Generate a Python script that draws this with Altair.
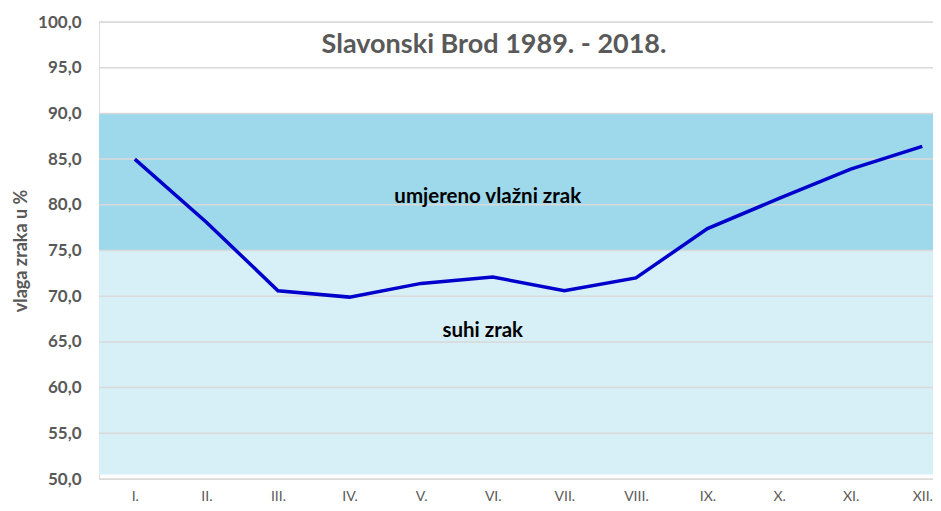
import altair as alt
import pandas as pd

months = ["I.", "II.", "III.", "IV.", "V.", "VI.", "VII.", "VIII.", "IX.", "X.", "XI.", "XII."]
humidity = [85.0, 78.1, 70.6, 69.9, 71.4, 72.1, 70.6, 72.0, 77.4, 80.7, 83.9, 86.4]

zone_names = ["suhi zrak", "umjereno vlažni zrak"]
zone_low = [50.5, 75.0]
zone_high = [75.0, 90.0]
zone_colors = ["#d7eff6", "#9dd9ea"]
zone_label_x = [4.86, 4.93]
zone_label_y = [66.2, 80.9]

y_ticks = [50, 55, 60, 65, 70, 75, 80, 85, 90, 95, 100]

W, H = 834, 457
FONT = "Lato"
GRAY = "#595959"

line_df = pd.DataFrame({"idx": list(range(len(months))), "month": months, "v": humidity})
zone_df = pd.DataFrame({"zone": zone_names, "lo": zone_low, "hi": zone_high,
                        "c": zone_colors, "lx": zone_label_x, "ly": zone_label_y})
grid_df = pd.DataFrame({"t": y_ticks})

label_expr = "[" + ",".join("'%s'" % m for m in months) + "][datum.value]"

xscale = alt.Scale(domain=[-0.5, 11.15], nice=False, zero=False)
yscale = alt.Scale(domain=[50, 100], nice=False, zero=False)

bands = alt.Chart(zone_df).mark_rect().encode(
    y=alt.Y("lo:Q", scale=yscale,
            axis=alt.Axis(values=y_ticks, labelExpr="replace(format(datum.value, '.1f'), '.', ',')",
                          title="vlaga zraka u %", titleFont=FONT, titleFontSize=18, titleFontWeight="bold",
                          titleColor=GRAY, titlePadding=7, labelFont=FONT, labelFontSize=17,
                          labelFontWeight="bold", labelColor=GRAY, labelPadding=18,
                          domain=False, ticks=False, grid=False)),
    y2="hi:Q",
    color=alt.Color("c:N", scale=None),
)

grid = alt.Chart(grid_df).mark_rule(color="#d9d9d9", strokeWidth=1.5).encode(
    y=alt.Y("t:Q", scale=yscale)
)

line = alt.Chart(line_df).mark_line(color="#0000cc", strokeWidth=3.5).encode(
    x=alt.X("idx:Q", scale=xscale,
            axis=alt.Axis(values=list(range(len(months))), labelExpr=label_expr, title=None,
                          labelFont=FONT, labelFontSize=14, labelColor=GRAY, labelPadding=10,
                          domain=False, ticks=False, grid=False)),
    y=alt.Y("v:Q", scale=yscale),
)

labels = alt.Chart(zone_df).mark_text(font=FONT, fontSize=20.5, fontWeight="bold", color="#000000").encode(
    x=alt.X("lx:Q", scale=xscale),
    y=alt.Y("ly:Q", scale=yscale),
    text="zone:N",
)

chart = alt.layer(bands, grid, line, labels).properties(
    width=W, height=H,
    title=alt.TitleParams("Slavonski Brod 1989. - 2018.", font=FONT, fontSize=27, fontWeight="bold",
                          color=GRAY, anchor="middle", offset=-46, dx=-22),
    autosize=alt.AutoSizeParams(type="none"),
    padding={"left": 91, "top": 14, "right": 0, "bottom": 24},
).configure_view(stroke=None).configure(background="white")

chart.save("out.html", embed_options={"renderer": "svg", "actions": False})
